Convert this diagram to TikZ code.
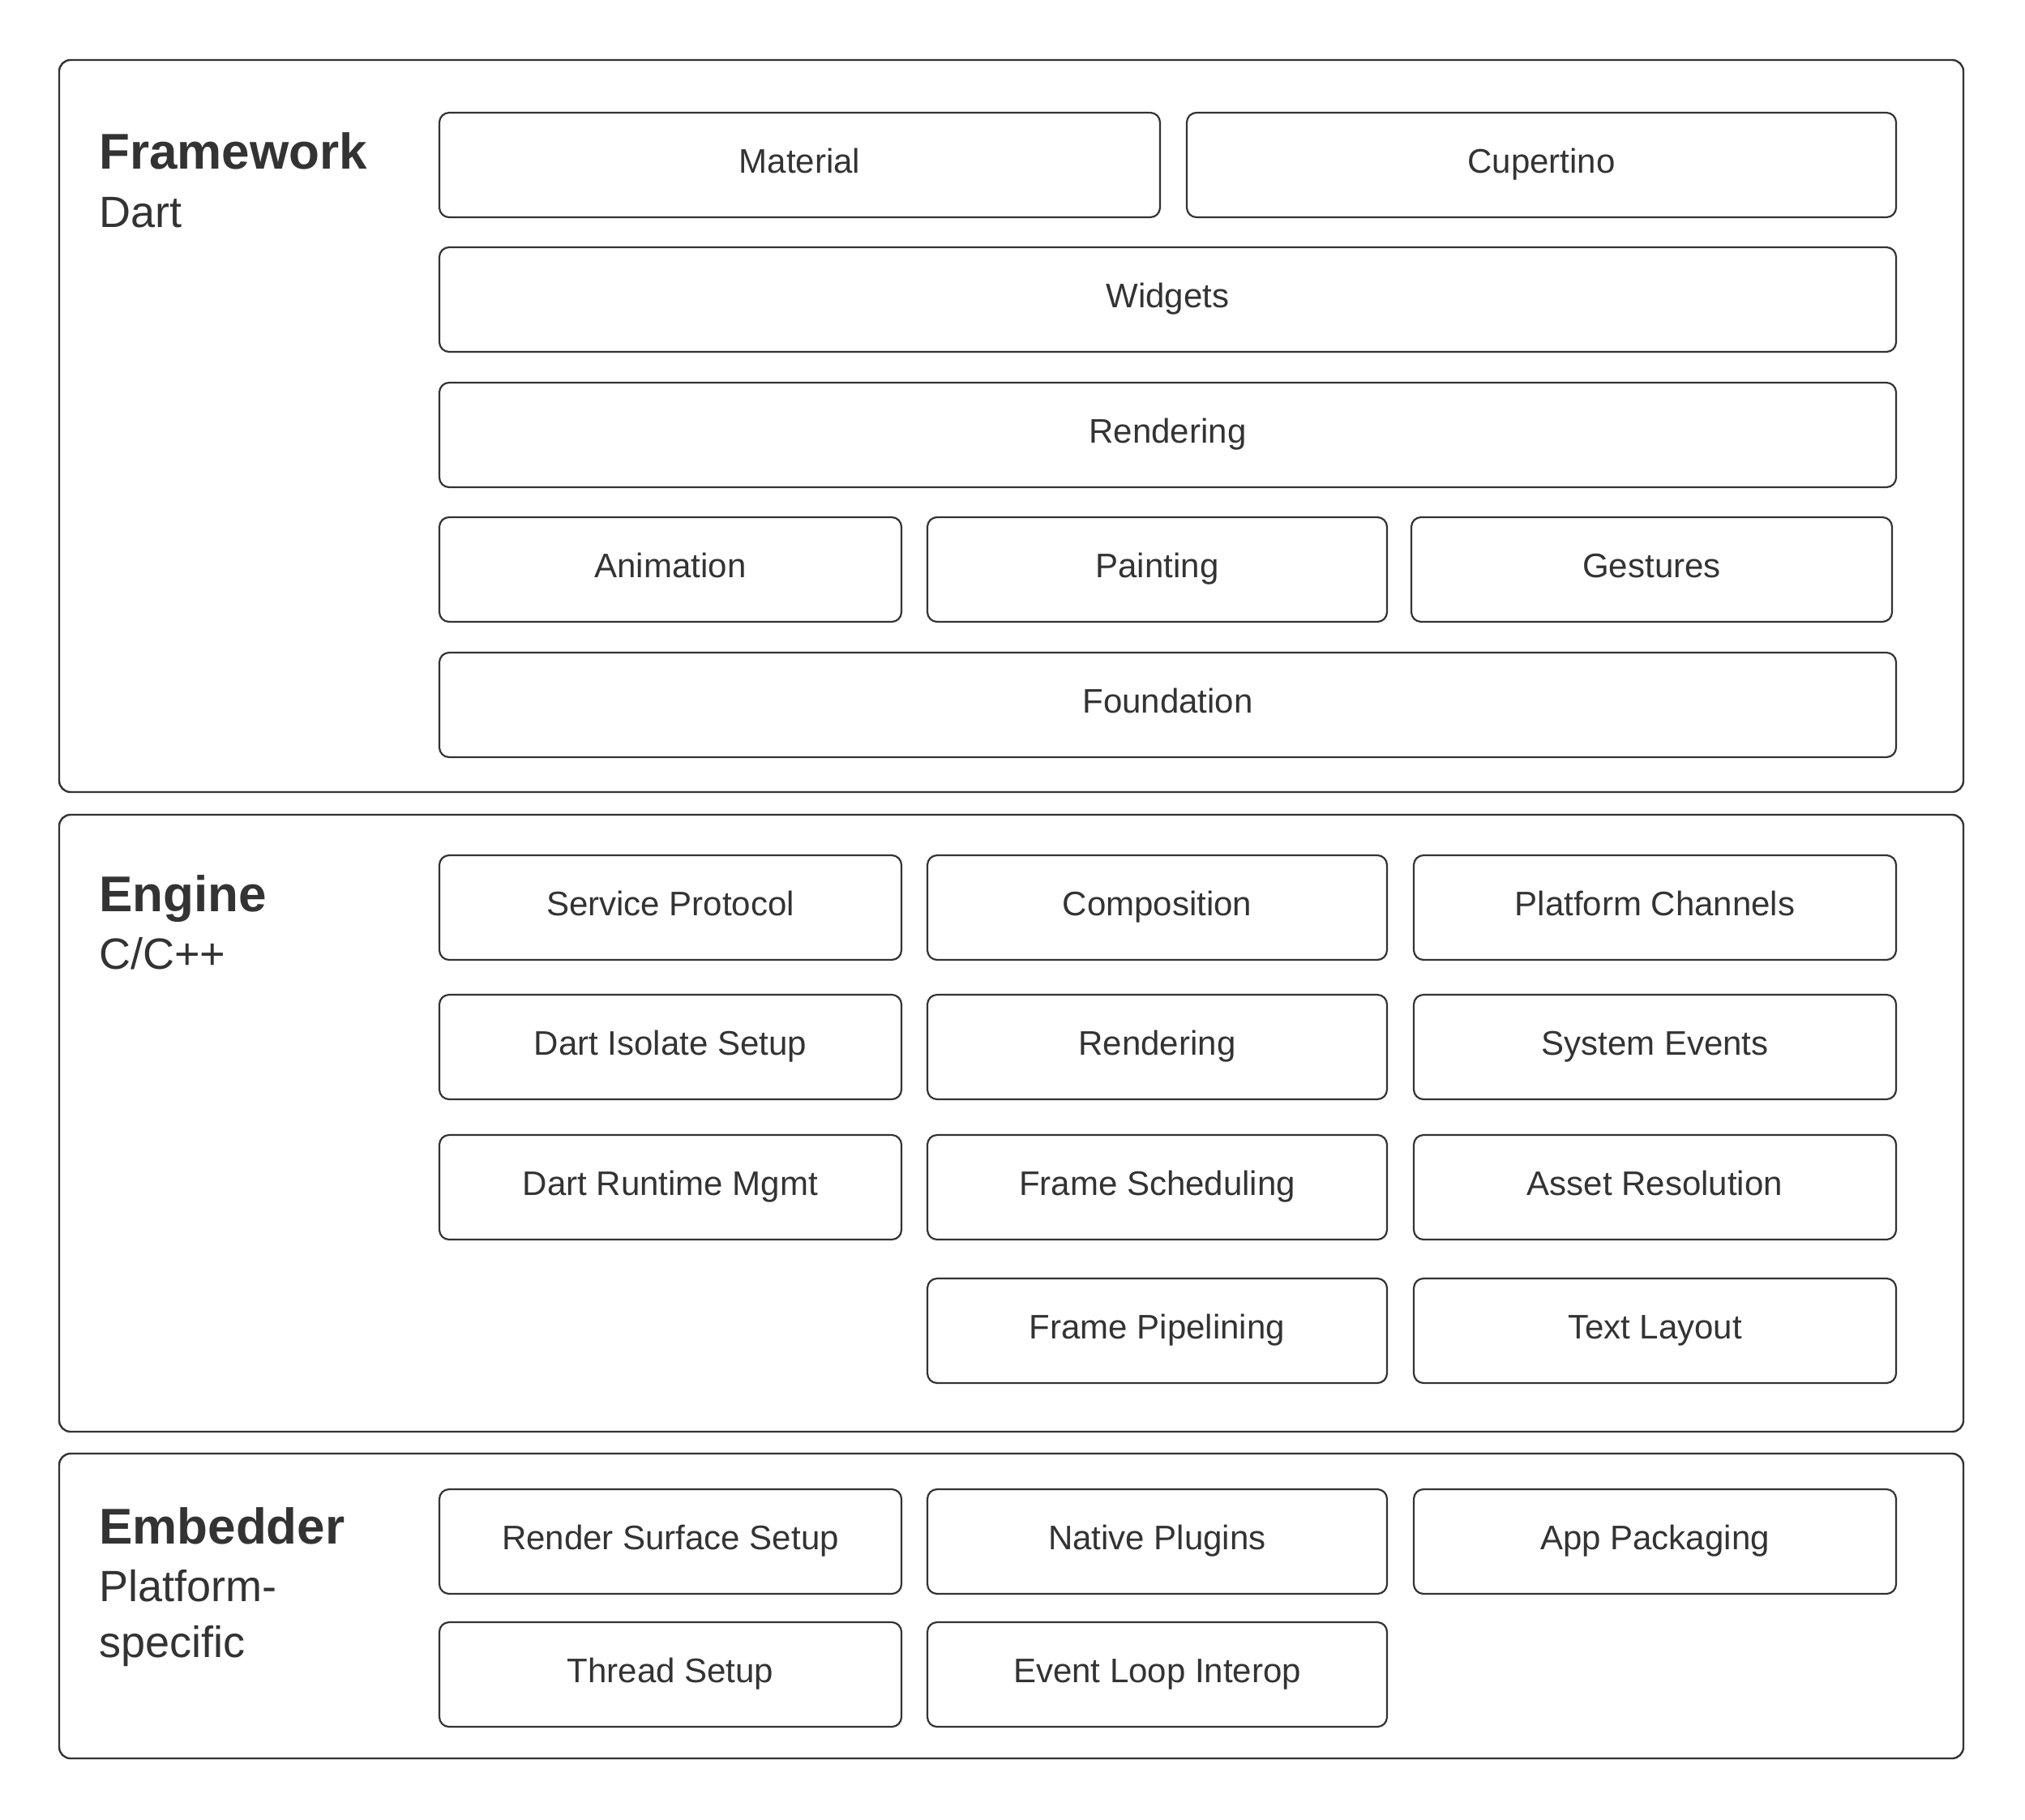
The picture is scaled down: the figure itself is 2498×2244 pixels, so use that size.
\documentclass[tikz,border=0pt]{standalone}
\usepackage{fontspec}
\setmainfont{Liberation Sans}
\definecolor{ink}{HTML}{333333}
\begin{document}
\begin{tikzpicture}[x=1pt,y=-1pt,
  panel/.style={draw=ink, line width=2.4pt, rounded corners=14pt, inner sep=0pt, fill=none},
  compbox/.style={draw=ink, line width=2.2pt, rounded corners=12pt, inner sep=0pt,
     text=ink, font=\fontsize{42}{50}\selectfont, text height=21pt, text depth=1pt},
  ttl/.style={anchor=base west, inner sep=0pt, text=ink, font=\fontsize{62}{72}\selectfont\bfseries},
  sub/.style={anchor=base west, inner sep=0pt, text=ink, font=\fontsize{54}{68}\selectfont, align=left}]
\useasboundingbox[fill=white] (0,0) rectangle (2498,2244);
\newcommand\mkbox[7]{%
  \pgfmathsetmacro\bw{#4-#2}\pgfmathsetmacro\bh{#5-#3}%
  \pgfmathsetmacro\cx{(#2+#4)/2}\pgfmathsetmacro\cy{(#3+#5)/2}%
  \node[#7, minimum width=\bw pt, minimum height=\bh pt] (#1) at (\cx,\cy) {#6};}
% panels
\mkbox{fw}{73}{74}{2422}{977}{}{panel}
\mkbox{eng}{73}{1005}{2422}{1766}{}{panel}
\mkbox{emb}{73}{1793}{2422}{2169}{}{panel}
% titles
\node[ttl] (fwt) at (122,208) {Framework};
\node[sub] (fws) at (122,280) {Dart};
\node[ttl] (engt) at (122,1124) {Engine};
\node[sub] (engs) at (122,1195) {C/C++};
\node[ttl] (embt) at (122,1904) {Embedder};
\node[sub] (embs) at (122,1975) {Platform-};
\node[sub] (embs2) at (122,2044) {specific};
% framework
\mkbox{material}{542}{139}{1431}{268}{Material}{compbox}
\mkbox{cupertino}{1464}{139}{2339}{268}{Cupertino}{compbox}
\mkbox{widgets}{542}{305}{2339}{434}{Widgets}{compbox}
\mkbox{frender}{542}{472}{2339}{601}{Rendering}{compbox}
\mkbox{animation}{542}{638}{1112}{767}{Animation}{compbox}
\mkbox{painting}{1144}{638}{1711}{767}{Painting}{compbox}
\mkbox{gestures}{1741}{638}{2334}{767}{Gestures}{compbox}
\mkbox{foundation}{542}{805}{2339}{934}{Foundation}{compbox}
% engine
\mkbox{service}{542}{1055}{1112}{1184}{Service Protocol}{compbox}
\mkbox{composition}{1144}{1055}{1711}{1184}{Composition}{compbox}
\mkbox{channels}{1744}{1055}{2339}{1184}{Platform Channels}{compbox}
\mkbox{isolate}{542}{1227}{1112}{1356}{Dart Isolate Setup}{compbox}
\mkbox{erender}{1144}{1227}{1711}{1356}{Rendering}{compbox}
\mkbox{sysevents}{1744}{1227}{2339}{1356}{System Events}{compbox}
\mkbox{runtime}{542}{1400}{1112}{1529}{Dart Runtime Mgmt}{compbox}
\mkbox{scheduling}{1144}{1400}{1711}{1529}{Frame Scheduling}{compbox}
\mkbox{assets}{1744}{1400}{2339}{1529}{Asset Resolution}{compbox}
\mkbox{pipelining}{1144}{1577}{1711}{1706}{Frame Pipelining}{compbox}
\mkbox{textlayout}{1744}{1577}{2339}{1706}{Text Layout}{compbox}
% embedder
\mkbox{surface}{542}{1837}{1112}{1966}{Render Surface Setup}{compbox}
\mkbox{plugins}{1144}{1837}{1711}{1966}{Native Plugins}{compbox}
\mkbox{packaging}{1744}{1837}{2339}{1966}{App Packaging}{compbox}
\mkbox{thread}{542}{2001}{1112}{2130}{Thread Setup}{compbox}
\mkbox{eventloop}{1144}{2001}{1711}{2130}{Event Loop Interop}{compbox}
\end{tikzpicture}
\end{document}
